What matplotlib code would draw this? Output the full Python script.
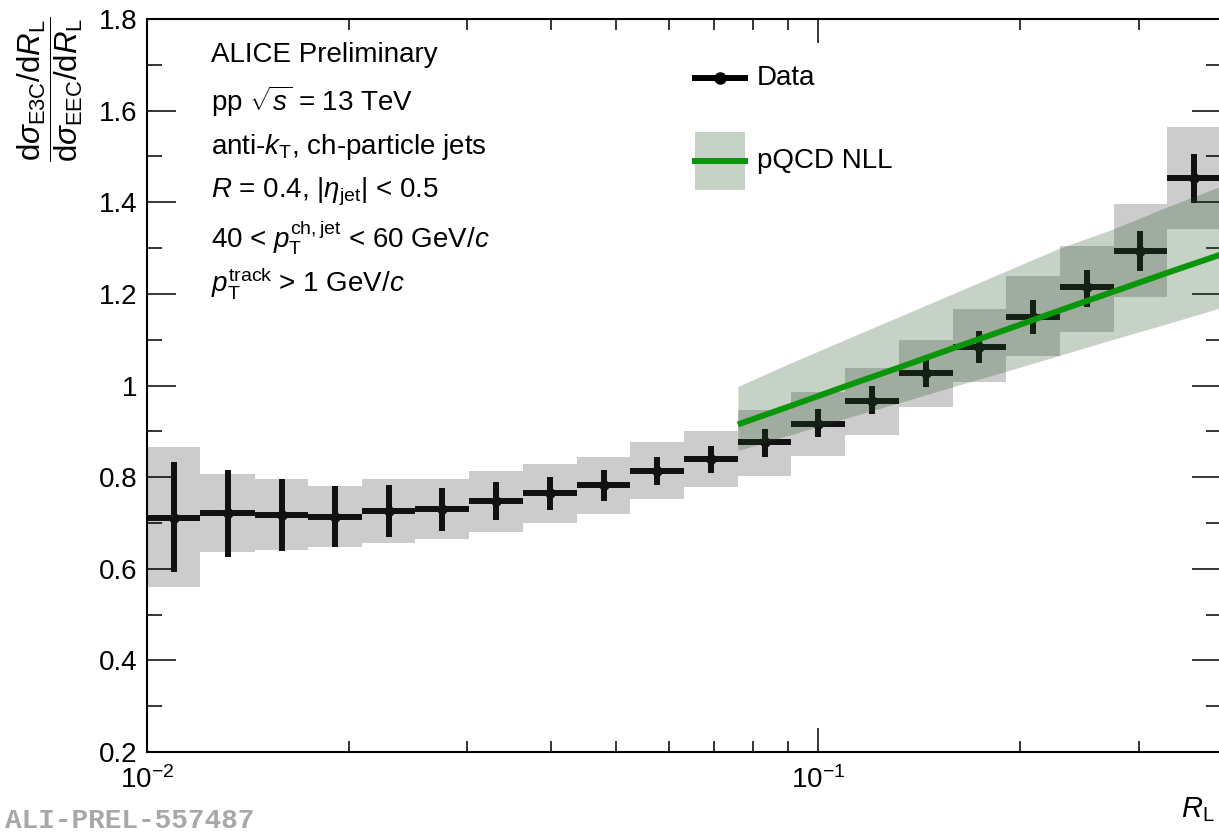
import numpy as np
import matplotlib
matplotlib.use("Agg")
import matplotlib.pyplot as plt
from matplotlib.lines import Line2D
from matplotlib.patches import Rectangle
from matplotlib.ticker import FixedLocator, FuncFormatter, LogLocator, LogFormatterMathtext, NullFormatter

plt.rcParams['font.family'] = ['Liberation Sans', 'DejaVu Sans']
plt.rcParams['mathtext.fontset'] = 'custom'
plt.rcParams['mathtext.rm'] = 'Liberation Sans'
plt.rcParams['mathtext.it'] = 'Liberation Sans:italic'
plt.rcParams['mathtext.bf'] = 'Liberation Sans:bold'
plt.rcParams['mathtext.sf'] = 'Liberation Sans'

# ---------------- data ----------------
bin_edges = [0.0100, 0.0120, 0.0145, 0.0174, 0.0209, 0.0251, 0.0302, 0.0363,
             0.0437, 0.0525, 0.0631, 0.0759, 0.0912, 0.1096, 0.1318, 0.1585,
             0.1905, 0.2291, 0.2754, 0.3311, 0.3981]
data_y = [0.710, 0.721, 0.717, 0.714, 0.725, 0.730, 0.747, 0.765, 0.782, 0.813,
          0.839, 0.876, 0.917, 0.967, 1.028, 1.085, 1.150, 1.214, 1.294, 1.454]
stat_lo = [0.592, 0.625, 0.638, 0.647, 0.669, 0.682, 0.706, 0.728, 0.747, 0.782,
           0.808, 0.845, 0.887, 0.937, 0.996, 1.050, 1.113, 1.172, 1.251, 1.399]
stat_hi = [0.832, 0.815, 0.795, 0.780, 0.782, 0.776, 0.789, 0.800, 0.815, 0.845,
           0.869, 0.904, 0.948, 0.998, 1.059, 1.120, 1.187, 1.253, 1.338, 1.506]
sys_lo = [0.560, 0.636, 0.640, 0.647, 0.656, 0.664, 0.680, 0.699, 0.719, 0.752,
          0.778, 0.803, 0.847, 0.893, 0.954, 1.007, 1.065, 1.116, 1.194, 1.342]
sys_hi = [0.865, 0.806, 0.795, 0.780, 0.795, 0.795, 0.813, 0.828, 0.843, 0.876,
          0.901, 0.947, 0.985, 1.039, 1.100, 1.166, 1.238, 1.305, 1.397, 1.565]

theory_x = [0.0759, 0.0912, 0.1096, 0.1318, 0.1585, 0.1905, 0.2291, 0.2754, 0.3311, 0.3981]
theory_y = [0.915, 0.956, 0.998, 1.039, 1.081, 1.122, 1.164, 1.205, 1.246, 1.286]
theory_hi = [0.998, 1.050, 1.100, 1.150, 1.200, 1.250, 1.300, 1.342, 1.390, 1.435]
theory_lo = [0.858, 0.893, 0.928, 0.962, 0.997, 1.031, 1.066, 1.101, 1.135, 1.170]

y_ticks = [0.2, 0.4, 0.6, 0.8, 1.0, 1.2, 1.4, 1.6, 1.8]

info_lines = [
    "ALICE Preliminary",
    r"pp $\sqrt{s}$ = 13 TeV",
    r"anti-$k_{\mathrm{T}}$, ch-particle jets",
    r"$R$ = 0.4, |$\eta_{\mathrm{jet}}$| < 0.5",
    r"40 < $p_{\mathrm{T}}^{\mathrm{ch,jet}}$ < 60 GeV/$c$",
    r"$p_{\mathrm{T}}^{\mathrm{track}}$ > 1 GeV/$c$",
]
legend_labels = ["Data", "pQCD NLL"]

FS = 20
W, H = 1219, 835
fig = plt.figure(figsize=(W / 100, H / 100), dpi=100)
ax = fig.add_axes([147 / W, 1 - 752 / H, (1221 - 147) / W, (752 - 19) / H])

edges = np.array(bin_edges)
lefts = edges[:-1]
widths = np.diff(edges)
centers = np.sqrt(edges[:-1] * edges[1:])
y = np.array(data_y)

data_color = '#111111'
band_color = '#1f4f1f'
band_alpha = 0.25
line_color = '#0a960a'

# systematic boxes
ax.bar(lefts, np.array(sys_hi) - np.array(sys_lo), width=widths, bottom=sys_lo,
       align='edge', color='black', alpha=0.2, linewidth=0, zorder=1)

# data points
ax.errorbar(centers, y, xerr=[centers - lefts, edges[1:] - centers],
            yerr=[y - np.array(stat_lo), np.array(stat_hi) - y],
            fmt='o', ms=6.5, color=data_color, ecolor=data_color, elinewidth=4.3,
            capsize=0, zorder=2)

# theory band and line
ax.fill_between(theory_x, theory_lo, theory_hi, color=band_color, alpha=band_alpha,
                linewidth=0, zorder=3)
ax.plot(theory_x, theory_y, color=line_color, lw=4.3, zorder=4, solid_capstyle='butt')

# axes
ax.set_xscale('log')
ax.set_xlim(0.01, 0.3981)
ax.set_ylim(0.2, 1.8)
ax.yaxis.set_major_locator(FixedLocator(y_ticks))
ax.yaxis.set_minor_locator(FixedLocator(np.arange(0.3, 1.8, 0.2)))
ax.yaxis.set_major_formatter(FuncFormatter(lambda v, p: f"{v:g}"))
ax.xaxis.set_major_locator(LogLocator(base=10, numticks=10))
ax.xaxis.set_minor_locator(LogLocator(base=10, subs=np.arange(2, 10), numticks=20))
ax.xaxis.set_major_formatter(LogFormatterMathtext())
ax.xaxis.set_minor_formatter(NullFormatter())

ax.tick_params(axis='y', which='major', direction='in', length=21, width=1.1,
               left=True, right=True, labelsize=FS, pad=7)
ax.tick_params(axis='y', which='minor', direction='in', length=10.5, width=1.1,
               left=True, right=True)
ax.tick_params(axis='x', which='major', direction='in', length=17, width=1.1,
               bottom=True, top=True, labelsize=FS, pad=10)
ax.tick_params(axis='x', which='minor', direction='in', length=8, width=1.1,
               bottom=True, top=True)
for s in ax.spines.values():
    s.set_linewidth(1.5)

# legend (drawn in axes-fraction coordinates)
def fx(px):
    return (px - 147) / 1074
def fy(py):
    return (752 - py) / 733

tr = ax.transAxes
ax.add_line(Line2D([fx(695), fx(745)], [fy(78), fy(78)], transform=tr, color='black',
                   lw=4.3, clip_on=False, zorder=10))
ax.add_line(Line2D([fx(720)], [fy(78)], transform=tr, color='black', marker='o', ms=8,
                   clip_on=False, zorder=10))
ax.add_patch(Rectangle((fx(695), fy(190)), fx(745) - fx(695), fy(132) - fy(190),
                       transform=tr, facecolor=band_color, alpha=band_alpha,
                       linewidth=0, clip_on=False, zorder=10))
ax.add_line(Line2D([fx(695), fx(745)], [fy(161), fy(161)], transform=tr, color=line_color,
                   lw=4.3, clip_on=False, zorder=11))
ax.text(fx(757), fy(78), legend_labels[0], transform=tr, fontsize=FS, va='center', ha='left')
ax.text(fx(757), fy(161), legend_labels[1], transform=tr, fontsize=FS, va='center', ha='left')

# info text
ys = [55, 101, 147, 192, 238, 283]
for t, yy in zip(info_lines, ys):
    fig.text(211 / W, 1 - yy / H, t, fontsize=FS, ha='left', va='center')

# axis titles
fig.text(50 / W, 1 - 16 / H,
         r"$\dfrac{\mathrm{d}\sigma_{\mathrm{E3C}}/\mathrm{d}R_{\mathrm{L}}}{\mathrm{d}\sigma_{\mathrm{EEC}}/\mathrm{d}R_{\mathrm{L}}}$",
         rotation=90, ha='center', va='top', fontsize=22.5)
fig.text(1215 / W, 1 - 795 / H, r"$R_{\mathrm{L}}$", ha='right', va='top', fontsize=21)

fig.text(5 / W, 1 / H, "ALI-PREL-557487", family='Liberation Mono', weight='bold',
         color='#a8a8a8', fontsize=20, ha='left', va='bottom')

fig.savefig("out.png", dpi=100)
